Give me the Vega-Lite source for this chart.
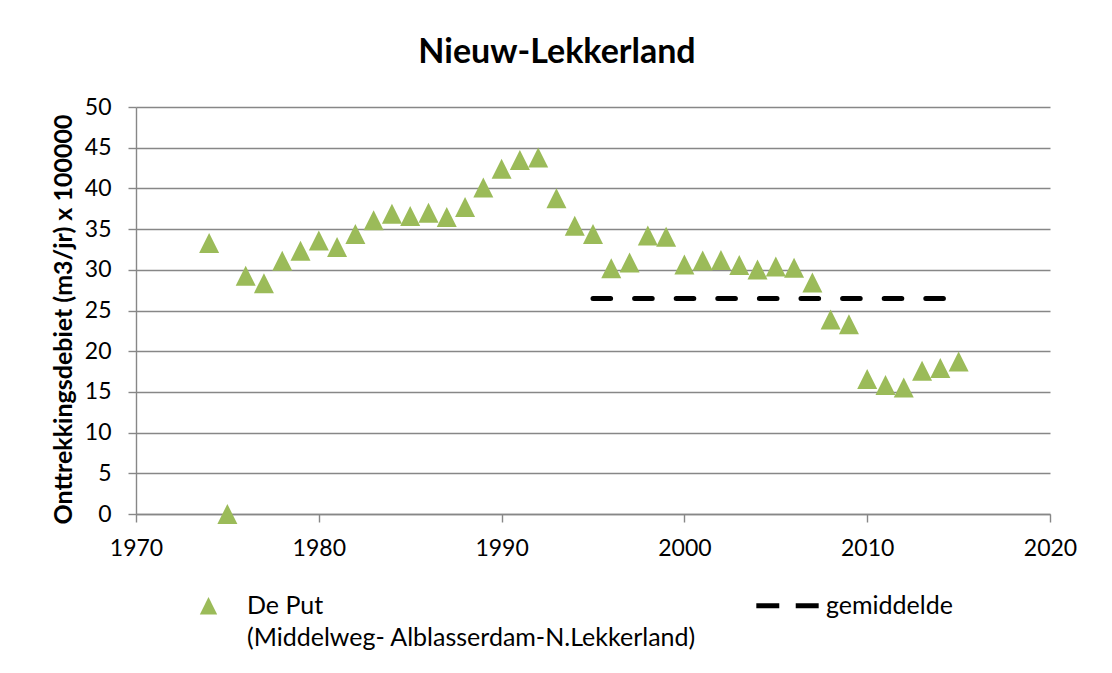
{
  "$schema": "https://vega.github.io/schema/vega-lite/v6.json",
  "autosize": "none",
  "width": 914,
  "height": 407,
  "padding": {"left": 136, "top": 107, "right": 62, "bottom": 159},
  "background": "white",
  "config": {
    "font": "Lato",
    "view": {"stroke": null},
    "axis": {
      "gridColor": "#878787",
      "gridWidth": 1.4,
      "domainColor": "#878787",
      "domainWidth": 1.4,
      "tickColor": "#878787",
      "tickWidth": 1.4,
      "tickSize": 8,
      "labelFont": "Lato",
      "labelFontSize": 23,
      "labelColor": "black",
      "titleFont": "Lato",
      "titleColor": "black"
    }
  },
  "title": {
    "text": "Nieuw-Lekkerland",
    "font": "Lato",
    "fontSize": 34,
    "fontWeight": "bold",
    "color": "black",
    "anchor": "middle",
    "baseline": "alphabetic",
    "offset": -1,
    "dx": -36
  },
  "datasets": {
    "put": [
      {"jaar": 1974, "debiet": 33.3, "serie": "De Put"},
      {"jaar": 1975, "debiet": 0.0, "serie": "De Put"},
      {"jaar": 1976, "debiet": 29.26, "serie": "De Put"},
      {"jaar": 1977, "debiet": 28.36, "serie": "De Put"},
      {"jaar": 1978, "debiet": 31.1, "serie": "De Put"},
      {"jaar": 1979, "debiet": 32.35, "serie": "De Put"},
      {"jaar": 1980, "debiet": 33.6, "serie": "De Put"},
      {"jaar": 1981, "debiet": 32.8, "serie": "De Put"},
      {"jaar": 1982, "debiet": 34.4, "serie": "De Put"},
      {"jaar": 1983, "debiet": 36.1, "serie": "De Put"},
      {"jaar": 1984, "debiet": 36.9, "serie": "De Put"},
      {"jaar": 1985, "debiet": 36.6, "serie": "De Put"},
      {"jaar": 1986, "debiet": 37.0, "serie": "De Put"},
      {"jaar": 1987, "debiet": 36.5, "serie": "De Put"},
      {"jaar": 1988, "debiet": 37.7, "serie": "De Put"},
      {"jaar": 1989, "debiet": 40.1, "serie": "De Put"},
      {"jaar": 1990, "debiet": 42.4, "serie": "De Put"},
      {"jaar": 1991, "debiet": 43.5, "serie": "De Put"},
      {"jaar": 1992, "debiet": 43.8, "serie": "De Put"},
      {"jaar": 1993, "debiet": 38.8, "serie": "De Put"},
      {"jaar": 1994, "debiet": 35.4, "serie": "De Put"},
      {"jaar": 1995, "debiet": 34.4, "serie": "De Put"},
      {"jaar": 1996, "debiet": 30.2, "serie": "De Put"},
      {"jaar": 1997, "debiet": 30.9, "serie": "De Put"},
      {"jaar": 1998, "debiet": 34.2, "serie": "De Put"},
      {"jaar": 1999, "debiet": 34.05, "serie": "De Put"},
      {"jaar": 2000, "debiet": 30.65, "serie": "De Put"},
      {"jaar": 2001, "debiet": 31.15, "serie": "De Put"},
      {"jaar": 2002, "debiet": 31.2, "serie": "De Put"},
      {"jaar": 2003, "debiet": 30.6, "serie": "De Put"},
      {"jaar": 2004, "debiet": 30.05, "serie": "De Put"},
      {"jaar": 2005, "debiet": 30.4, "serie": "De Put"},
      {"jaar": 2006, "debiet": 30.25, "serie": "De Put"},
      {"jaar": 2007, "debiet": 28.45, "serie": "De Put"},
      {"jaar": 2008, "debiet": 23.9, "serie": "De Put"},
      {"jaar": 2009, "debiet": 23.3, "serie": "De Put"},
      {"jaar": 2010, "debiet": 16.6, "serie": "De Put"},
      {"jaar": 2011, "debiet": 15.85, "serie": "De Put"},
      {"jaar": 2012, "debiet": 15.55, "serie": "De Put"},
      {"jaar": 2013, "debiet": 17.6, "serie": "De Put"},
      {"jaar": 2014, "debiet": 17.95, "serie": "De Put"},
      {"jaar": 2015, "debiet": 18.75, "serie": "De Put"}
    ],
    "gem": [
      {"jaar": 1995, "debiet": 26.48, "serie": "gemiddelde"},
      {"jaar": 2015, "debiet": 26.48, "serie": "gemiddelde"}
    ]
  },
  "encoding": {
    "x": {
      "field": "jaar",
      "type": "quantitative",
      "scale": {"domain": [1970, 2020], "nice": false, "zero": false},
      "axis": {
        "title": null,
        "values": [1970, 1980, 1990, 2000, 2010, 2020],
        "format": "d",
        "grid": false,
        "labelPadding": 15,
        "labelFlush": false
      }
    },
    "y": {
      "field": "debiet",
      "type": "quantitative",
      "scale": {"domain": [0, 50], "nice": false},
      "axis": {
        "title": "Onttrekkingsdebiet (m3/jr) x 100000",
        "titleFontSize": 25,
        "titleFontWeight": "bold",
        "titleX": -73,
        "titleY": 212,
        "titleBaseline": "middle",
        "titleAngle": -90,
        "values": [0, 5, 10, 15, 20, 25, 30, 35, 40, 45, 50],
        "labelPadding": 17,
        "grid": true
      }
    }
  },
  "layer": [
    {
      "data": {"name": "gem"},
      "mark": {
        "type": "line",
        "color": "black",
        "strokeWidth": 5,
        "strokeDash": [17.6, 24],
        "strokeCap": "round"
      },
      "encoding": {}
    },
    {
      "data": {"name": "put"},
      "mark": {"type": "point", "filled": true, "opacity": 1, "size": 400, "strokeWidth": 0},
      "encoding": {
        "color": {
          "field": "serie",
          "type": "nominal",
          "scale": {"domain": ["De Put", "gemiddelde"], "range": ["#9BBB59", "#000000"]},
          "legend": {
            "title": null,
            "orient": "none",
            "legendX": 60,
            "legendY": 486,
            "direction": "horizontal",
            "columns": 2,
            "columnPadding": 59,
            "symbolSize": 300,
            "symbolStrokeWidth": 0,
            "symbolOpacity": 1,
            "labelFont": "Lato",
            "labelFontSize": 25,
            "labelColor": "black",
            "labelOffset": 26,
            "labelLimit": 1000,
            "labelExpr": "datum.label == 'De Put' ? ['De Put', '(Middelweg- Alblasserdam-N.Lekkerland)'] : [datum.label, '']",
            "encode": {"labels": {"update": {"lineHeight": {"value": 32}}}}
          }
        },
        "shape": {
          "field": "serie",
          "type": "nominal",
          "scale": {
            "domain": ["De Put", "gemiddelde"],
            "range": [
              "M0,-1L1,1L-1,1Z",
              "M-3.6,-0.29L-0.95,-0.29L-0.95,0.29L-3.6,0.29Z M0.95,-0.29L3.6,-0.29L3.6,0.29L0.95,0.29Z"
            ]
          }
        }
      }
    }
  ]
}
